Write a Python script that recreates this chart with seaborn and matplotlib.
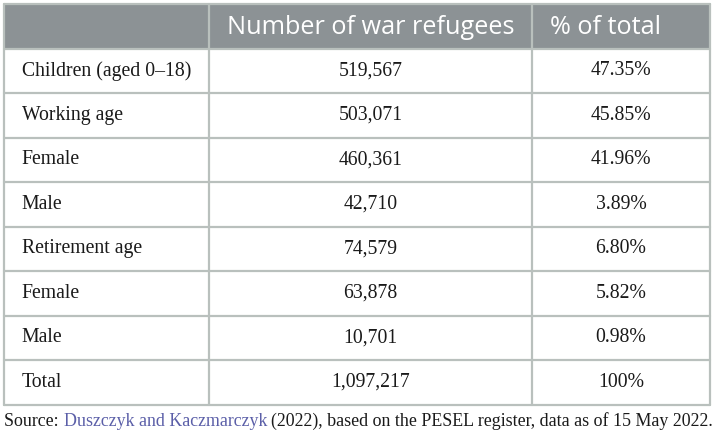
import matplotlib
matplotlib.use("Agg")
import matplotlib.pyplot as plt
import seaborn as sns
from matplotlib.patches import Rectangle

# Table content
header = ["", "Number of war refugees", "% of total"]
groups = ["Children (aged 0\u201318)", "Working age", "Female", "Male",
          "Retirement age", "Female", "Male", "Total"]
refugees = ["519,567", "503,071", "460,361", "42,710",
            "74,579", "63,878", "10,701", "1,097,217"]
share = ["47.35%", "45.85%", "41.96%", "3.89%",
         "6.80%", "5.82%", "0.98%", "100%"]
source_pre = "Source: "
source_link = "Duszczyk and Kaczmarczyk"
source_post = "(2022), based on the PESEL register, data as of 15 May 2022."

sns.set_theme(style="white")
plt.rcParams["font.family"] = ["Liberation Serif", "DejaVu Serif"]

W, H = 714, 438
fig = plt.figure(figsize=(W / 100, H / 100), dpi=100)
ax = fig.add_axes([0, 0, 1, 1])
ax.set_xlim(0, W)
ax.set_ylim(H, 0)
ax.axis("off")

# layout in pixels
col_x = [3.5, 209, 532, 710]
top = 3.5
head_h = 45
row_h = 44.5
line_c = "#b9c0bd"
head_c = "#8c9295"
txt_c = "#1a1a1a"
body_fs = 14.2

n = len(groups)
bottom = top + head_h + n * row_h

# header band
ax.add_patch(Rectangle((col_x[0], top), col_x[-1] - col_x[0], head_h,
                       facecolor=head_c, edgecolor="none", zorder=1))
for j, txt in enumerate(header):
    if txt:
        ax.text(col_x[j] + 18, top + head_h / 2 + 1.5, txt, color="white",
                fontsize=18.2, family=["Open Sans", "DejaVu Sans"],
                ha="left", va="center", zorder=3)

# horizontal rules
for i in range(n + 1):
    y = top + head_h + i * row_h
    ax.plot([col_x[0], col_x[-1]], [y, y], color=line_c, lw=1.6, zorder=2)
ax.plot([col_x[0], col_x[-1]], [top, top], color=line_c, lw=1.6, zorder=2)

# vertical rules
for x in col_x:
    ax.plot([x, x], [top, bottom], color=line_c, lw=1.6, zorder=2)

# body
for i in range(n):
    yc = top + head_h + (i + 0.5) * row_h
    ax.text(col_x[0] + 18, yc, groups[i], fontsize=body_fs, color=txt_c,
            ha="left", va="center", zorder=3)
    ax.text((col_x[1] + col_x[2]) / 2, yc, refugees[i], fontsize=body_fs,
            color=txt_c, ha="center", va="center", zorder=3)
    ax.text((col_x[2] + col_x[3]) / 2, yc, share[i], fontsize=body_fs,
            color=txt_c, ha="center", va="center", zorder=3)

# source note with coloured citation
fig.canvas.draw()
renderer = fig.canvas.get_renderer()
ys = 421
x0 = 4
inv = ax.transData.inverted()
for part, col in [(source_pre, txt_c), (source_link, "#5b5fa8"),
                  (" ", txt_c), (source_post, txt_c)]:
    if part == " ":
        x0 += 3.5
        continue
    t = ax.text(x0, ys, part, fontsize=12.9, color=col, ha="left", va="center")
    bb = t.get_window_extent(renderer)
    x0 = inv.transform((bb.x1, bb.y0))[0]
    if part == source_pre:
        x0 += 1

fig.savefig("out.png", dpi=100)
